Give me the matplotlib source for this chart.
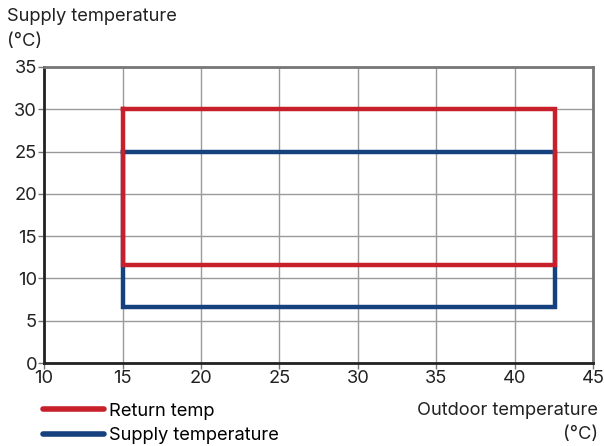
import matplotlib
matplotlib.use("Agg")
import matplotlib.pyplot as plt
from matplotlib.lines import Line2D

plt.rcParams['font.family'] = ['Inter', 'DejaVu Sans']

# operating envelopes (outdoor temp, water temp)
return_x = [15, 42.6, 42.6, 15, 15]
return_y = [30, 30, 11.6, 11.6, 30]
supply_x = [15, 42.6, 42.6, 15, 15]
supply_y = [25, 25, 6.6, 6.6, 25]

xticks = [10, 15, 20, 25, 30, 35, 40, 45]
yticks = [0, 5, 10, 15, 20, 25, 30, 35]

red = '#c8202b'
blue = '#15427f'
txt = '#222222'
fs = 13.2

fig = plt.figure(figsize=(6.04, 4.46), dpi=100)
ax = fig.add_axes([0.073, 0.186, 0.909, 0.664])

ax.plot(supply_x, supply_y, color=blue, lw=3.2, solid_joinstyle='miter', zorder=3)
ax.plot(return_x, return_y, color=red, lw=3.2, solid_joinstyle='miter', zorder=4)

ax.set_xlim(10, 45)
ax.set_ylim(0, 35)
ax.set_xticks(xticks)
ax.set_yticks(yticks)
ax.grid(True, color='#9a9a9a', lw=1.0, zorder=0)
ax.tick_params(direction='out', length=4, width=1, colors='#777777',
               labelcolor=txt, labelsize=fs, pad=1)

for side in ['left', 'bottom']:
    ax.spines[side].set_color('#222222')
    ax.spines[side].set_linewidth(2)
for side in ['top', 'right']:
    ax.spines[side].set_color('#777777')
    ax.spines[side].set_linewidth(2)

fig.text(0.012, 0.982, 'Supply temperature\n(°C)', ha='left', va='top',
         fontsize=fs, color=txt, linespacing=1.6)
fig.text(0.99, 0.099, 'Outdoor temperature\n(°C)', ha='right', va='top',
         fontsize=fs, color=txt, linespacing=1.55, multialignment='right')

handles = [Line2D([], [], color=red, lw=4, solid_capstyle='round'),
           Line2D([], [], color=blue, lw=4, solid_capstyle='round')]
fig.legend(handles, ['Return temp', 'Supply temperature'],
           loc='upper left', bbox_to_anchor=(0.072, 0.097), frameon=False,
           fontsize=fs, handlelength=3.3, handletextpad=0.25,
           labelspacing=0.4, borderaxespad=0, borderpad=0)

fig.savefig('out.png', dpi=100)
